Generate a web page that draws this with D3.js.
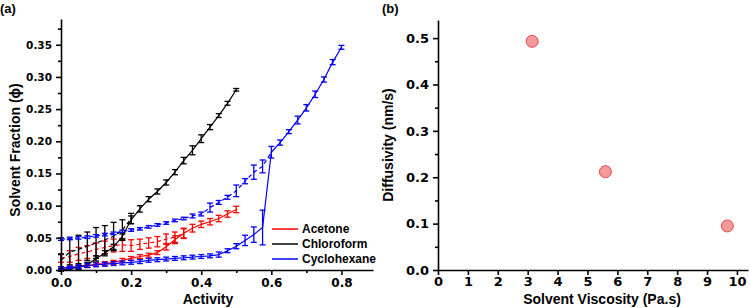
<!DOCTYPE html>
<html>
<head>
<meta charset="utf-8">
<script src="https://cdn.jsdelivr.net/npm/d3@7/dist/d3.min.js"></script>
<style>
  body { margin: 0; background: #fff; }
  svg { display: block; font-family: "Liberation Sans", Arial, sans-serif; font-weight: bold; }
  .axis path, .axis line { stroke: #000; stroke-width: 1.6; }
  .axis text { font-family: "DejaVu Sans", Verdana, sans-serif; font-weight: bold; }
</style>
</head>
<body>
<script>
// ---- panel (a): solvent sorption isotherms ----
var chlAbsAct = [0,0.025,0.05,0.075,0.1,0.125,0.15,0.175,0.2,0.225,0.25,0.275,0.3,0.325,0.35,0.375,0.4,0.425,0.45,0.475,0.5];
var chlAbs    = [0.000,0.002,0.004,0.008,0.018,0.026,0.036,0.052,0.078,0.095,0.110,0.122,0.136,0.152,0.170,0.186,0.204,0.222,0.240,0.259,0.280];
var chlAbsErr = [0.002,0.002,0.003,0.004,0.004,0.004,0.004,0.004,0.006,0.005,0.004,0.004,0.004,0.004,0.005,0.007,0.006,0.004,0.003,0.003,0.002];
var chlDesAct = [0,0.025,0.05,0.075,0.1,0.125,0.15,0.175,0.2];
var chlDes    = [0.015,0.028,0.032,0.037,0.042,0.047,0.052,0.062,0.080];
var chlDesErr = [0.010,0.020,0.022,0.022,0.024,0.022,0.022,0.016,0.008];

var aceAbsAct = [0,0.025,0.05,0.075,0.1,0.125,0.15,0.175,0.2,0.225,0.25,0.275,0.3,0.325,0.35,0.375,0.4,0.425,0.45,0.475,0.5];
var aceAbs    = [0.003,0.004,0.005,0.006,0.009,0.010,0.012,0.015,0.018,0.021,0.023,0.027,0.036,0.047,0.057,0.065,0.071,0.075,0.080,0.087,0.094];
var aceAbsErr = [0.002,0.002,0.002,0.002,0.003,0.003,0.003,0.003,0.003,0.003,0.003,0.003,0.005,0.006,0.007,0.006,0.005,0.005,0.005,0.005,0.005];
var aceDesAct = [0,0.025,0.05,0.075,0.1,0.125,0.15,0.175,0.2,0.225,0.25,0.275,0.3,0.325,0.35];
var aceDes    = [0.018,0.021,0.025,0.028,0.032,0.035,0.038,0.039,0.038,0.040,0.042,0.044,0.048,0.051,0.057];
var aceDesErr = [0.006,0.009,0.010,0.010,0.010,0.010,0.010,0.010,0.009,0.008,0.008,0.008,0.008,0.008,0.008];

var cycAbsAct = [0,0.025,0.05,0.075,0.1,0.125,0.15,0.175,0.2,0.225,0.25,0.275,0.3,0.325,0.35,0.375,0.4,0.425,0.45,0.475,0.5,0.525,0.55,0.575,0.6,0.625,0.65,0.675,0.7,0.725,0.75,0.775,0.8];
var cycAbs    = [0.003,0.004,0.005,0.007,0.008,0.009,0.010,0.011,0.012,0.013,0.015,0.016,0.017,0.018,0.019,0.020,0.021,0.022,0.024,0.030,0.037,0.046,0.055,0.066,0.183,0.198,0.215,0.233,0.252,0.273,0.296,0.323,0.346];
var cycAbsErr = [0.002,0.002,0.003,0.003,0.003,0.003,0.003,0.003,0.003,0.003,0.003,0.003,0.003,0.003,0.003,0.003,0.003,0.003,0.004,0.003,0.004,0.008,0.012,0.027,0.009,0.004,0.003,0.006,0.005,0.005,0.004,0.004,0.003];
var cycDesAct = [0,0.025,0.05,0.075,0.1,0.125,0.15,0.175,0.2,0.225,0.25,0.275,0.3,0.325,0.35,0.375,0.4,0.425,0.45,0.475,0.5,0.525,0.55,0.575,0.6];
var cycDes    = [0.048,0.049,0.050,0.051,0.053,0.055,0.057,0.060,0.062,0.064,0.067,0.070,0.073,0.077,0.080,0.084,0.087,0.097,0.105,0.113,0.123,0.138,0.152,0.161,0.183];
var cycDesErr = [0.002,0.002,0.002,0.002,0.002,0.002,0.002,0.002,0.002,0.002,0.002,0.002,0.002,0.002,0.002,0.003,0.003,0.007,0.003,0.003,0.009,0.004,0.011,0.010,0.000];

var solventNames = ["Acetone", "Chloroform", "Cyclohexane"];
var solventColors = ["#ff0000", "#000000", "#0000ff"];

// ---- panel (b): diffusivity vs viscosity ----
var viscosity   = [3.15, 5.6, 9.68];
var diffusivity = [0.493, 0.212, 0.095];

function zip(xs, ys, es) {
  return xs.map(function(x, i) { return {x: x, y: ys[i], e: es[i]}; });
}

var svg = d3.select("body").append("svg")
    .attr("width", 750)
    .attr("height", 308);

// ===== panel (a) =====
var xA = d3.scaleLinear().domain([0, 0.89]).range([61, 373]);
var yA = d3.scaleLinear().domain([0, 0.39]).range([270, 19]);

var series = [
  {d: zip(aceDesAct, aceDes, aceDesErr), c: solventColors[0], dash: "4,3"},
  {d: zip(chlDesAct, chlDes, chlDesErr), c: solventColors[1], dash: "4,3"},
  {d: zip(cycDesAct, cycDes, cycDesErr), c: solventColors[2], dash: "4,3"},
  {d: zip(aceAbsAct, aceAbs, aceAbsErr), c: solventColors[0], dash: null},
  {d: zip(chlAbsAct, chlAbs, chlAbsErr), c: solventColors[1], dash: null},
  {d: zip(cycAbsAct, cycAbs, cycAbsErr), c: solventColors[2], dash: null}
];

var line = d3.line()
    .x(function(d) { return xA(d.x); })
    .y(function(d) { return yA(d.y); });

var plotA = svg.append("g");
series.forEach(function(s) {
  var g = plotA.append("g");
  g.append("path")
    .datum(s.d)
    .attr("d", line)
    .attr("fill", "none")
    .attr("stroke", s.c)
    .attr("stroke-width", 1.2)
    .attr("stroke-dasharray", s.dash);

  // error bars
  var eb = g.selectAll(".eb").data(s.d.filter(function(d) { return d.e > 0; }))
    .enter().append("g")
    .attr("stroke", s.c)
    .attr("stroke-width", 1.3);
  eb.append("line")
    .attr("x1", function(d) { return xA(d.x); })
    .attr("x2", function(d) { return xA(d.x); })
    .attr("y1", function(d) { return yA(d.y - d.e); })
    .attr("y2", function(d) { return yA(d.y + d.e); });
  eb.append("line")
    .attr("x1", function(d) { return xA(d.x) - 3; })
    .attr("x2", function(d) { return xA(d.x) + 3; })
    .attr("y1", function(d) { return yA(d.y + d.e); })
    .attr("y2", function(d) { return yA(d.y + d.e); });
  eb.append("line")
    .attr("x1", function(d) { return xA(d.x) - 3; })
    .attr("x2", function(d) { return xA(d.x) + 3; })
    .attr("y1", function(d) { return yA(d.y - d.e); })
    .attr("y2", function(d) { return yA(d.y - d.e); });
});

// axes (a)
svg.append("g")
    .attr("class", "axis")
    .attr("transform", "translate(0,270)")
    .call(d3.axisBottom(xA).tickValues([0.1, 0.3, 0.5, 0.7]).tickSize(3).tickFormat(""))
    .call(function(g) { g.select(".domain").remove(); });
svg.append("g")
    .attr("class", "axis")
    .attr("transform", "translate(0,270)")
    .call(d3.axisBottom(xA).tickValues([0, 0.2, 0.4, 0.6, 0.8]).tickSize(5).tickSizeOuter(0).tickFormat(d3.format(".1f")))
    .call(function(g) { g.selectAll("text").attr("font-size", 12).attr("y", 8).attr("dy", "0.71em"); });

svg.append("g")
    .attr("class", "axis")
    .attr("transform", "translate(61,0)")
    .call(d3.axisLeft(yA).tickValues([0.025, 0.075, 0.125, 0.175, 0.225, 0.275, 0.325, 0.375]).tickSize(3).tickFormat(""))
    .call(function(g) { g.select(".domain").remove(); });
svg.append("g")
    .attr("class", "axis")
    .attr("transform", "translate(61,0)")
    .call(d3.axisLeft(yA).tickValues([0, 0.05, 0.1, 0.15, 0.2, 0.25, 0.3, 0.35]).tickSize(5).tickSizeOuter(0).tickFormat(d3.format(".2f")))
    .call(function(g) { g.selectAll("text").attr("font-size", 10.5).attr("x", -9); });

svg.append("text")
    .attr("x", 208).attr("y", 304)
    .attr("text-anchor", "middle")
    .attr("font-size", 14)
    .text("Activity");
svg.append("text")
    .attr("transform", "translate(20,150) rotate(-90)")
    .attr("text-anchor", "middle")
    .attr("font-size", 14)
    .text("Solvent Fraction (\u03d5)");
svg.append("text")
    .attr("x", 0).attr("y", 13)
    .attr("font-size", 13)
    .text("(a)");

// legend
var legend = svg.selectAll(".legend")
    .data(solventNames)
  .enter().append("g")
    .attr("class", "legend")
    .attr("transform", function(d, i) { return "translate(272," + (229 + i * 15) + ")"; });
legend.append("line")
    .attr("x1", 0).attr("x2", 26)
    .attr("stroke", function(d, i) { return solventColors[i]; })
    .attr("stroke-width", 1.5);
legend.append("text")
    .attr("x", 30).attr("dy", "0.35em")
    .attr("font-size", 12)
    .text(function(d) { return d; });

// ===== panel (b) =====
var xB = d3.scaleLinear().domain([0, 10.37]).range([438, 748]);
var yB = d3.scaleLinear().domain([0, 0.539]).range([270, 20]);

svg.append("g")
    .attr("class", "axis")
    .attr("transform", "translate(0,270)")
    .call(d3.axisBottom(xB).tickValues(d3.range(0, 11)).tickSize(5).tickSizeOuter(0).tickFormat(d3.format("d")))
    .call(function(g) { g.selectAll("text").attr("font-size", 13).attr("y", 7).attr("dy", "0.71em"); });
svg.append("g")
    .attr("class", "axis")
    .attr("transform", "translate(438,0)")
    .call(d3.axisLeft(yB).tickValues([0.05, 0.15, 0.25, 0.35, 0.45]).tickSize(3).tickFormat(""))
    .call(function(g) { g.select(".domain").remove(); });
svg.append("g")
    .attr("class", "axis")
    .attr("transform", "translate(438,0)")
    .call(d3.axisLeft(yB).tickValues([0, 0.1, 0.2, 0.3, 0.4, 0.5]).tickSize(5).tickSizeOuter(0).tickFormat(d3.format(".1f")))
    .call(function(g) { g.selectAll("text").attr("font-size", 13).attr("x", -9); });

svg.selectAll(".dot")
    .data(viscosity)
  .enter().append("circle")
    .attr("class", "dot")
    .attr("r", 6)
    .attr("cx", function(d) { return xB(d); })
    .attr("cy", function(d, i) { return yB(diffusivity[i]); })
    .attr("fill", "#f59a9a")
    .attr("stroke", "#e8474a")
    .attr("stroke-width", 1);

svg.append("text")
    .attr("x", 602).attr("y", 304)
    .attr("text-anchor", "middle")
    .attr("font-size", 14)
    .text("Solvent Viscosity (Pa.s)");
svg.append("text")
    .attr("transform", "translate(393,145) rotate(-90)")
    .attr("text-anchor", "middle")
    .attr("font-size", 14)
    .text("Diffusivity (nm/s)");
svg.append("text")
    .attr("x", 382).attr("y", 13)
    .attr("font-size", 13)
    .text("(b)");
</script>
</body>
</html>
